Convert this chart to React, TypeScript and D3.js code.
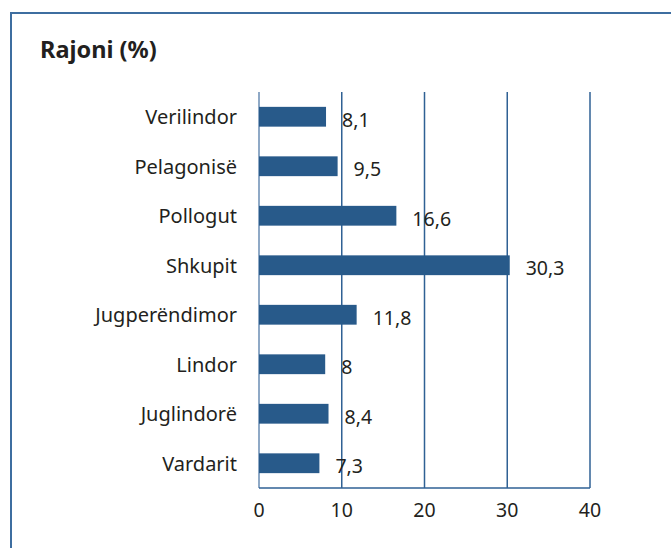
import React from "react";
import * as d3 from "d3";

const categories = ["Verilindor", "Pelagonisë", "Pollogut", "Shkupit", "Jugperëndimor", "Lindor", "Juglindorë", "Vardarit"];
const values = [8.1, 9.5, 16.6, 30.3, 11.8, 8, 8.4, 7.3];
const valueLabels = ["8,1", "9,5", "16,6", "30,3", "11,8", "8", "8,4", "7,3"];
const ticks = [0, 10, 20, 30, 40];
const title = "Rajoni (%)";

const W = 671;
const H = 548;
const FONT = "'Noto Sans', sans-serif";
const TEXT = "#231f20";
const BAR = "#285a8a";
const GRID = "#2f6194";

export default function App() {
  const x = d3.scaleLinear().domain([0, 40]).range([259, 590]);
  const y = d3.scaleBand<string>().domain(categories).range([92, 488]).paddingInner(0.6).paddingOuter(0.3);
  const [top, bottom] = y.range();
  return (
    <div style={{ position: "fixed", left: 0, top: 0 }}>
      <svg width={W} height={H} style={{ display: "block", background: "#fff" }}>
        <rect x={11} y={13} width={W + 20} height={H + 20} fill="none" stroke="#3e6ea0" strokeWidth={2} />
        <text x={40} y={58} fontFamily={FONT} fontWeight="bold" fontSize={23.5} fill={TEXT}>{title}</text>
        {ticks.filter((t) => t > 0).map((t) => (
          <line key={"g" + t} x1={x(t)} x2={x(t)} y1={top} y2={bottom} stroke={GRID} strokeWidth={1.5} />
        ))}
        <line x1={x(0)} x2={x(0)} y1={top} y2={bottom} stroke="#6a8db3" strokeWidth={1.5} />
        <line x1={x(0)} x2={x(40)} y1={bottom} y2={bottom} stroke={GRID} strokeWidth={1.5} />
        {categories.map((c, i) => {
          const yb = y(c)!;
          const bw = y.bandwidth();
          return (
            <g key={c}>
              <rect x={x(0)} y={yb} width={x(values[i]) - x(0)} height={bw} fill={BAR} />
              <text x={237} y={yb + bw / 2 + 7.5} textAnchor="end" fontFamily={FONT} fontSize={20} fill={TEXT}>{c}</text>
              <text x={x(values[i]) + 16} y={yb + bw} fontFamily={FONT} fontSize={19.5} fill={TEXT}>{valueLabels[i]}</text>
            </g>
          );
        })}
        {ticks.map((t) => (
          <text key={"t" + t} x={x(t)} y={517} textAnchor="middle" fontFamily={FONT} fontSize={19.5} fill={TEXT}>{t}</text>
        ))}
      </svg>
    </div>
  );
}
